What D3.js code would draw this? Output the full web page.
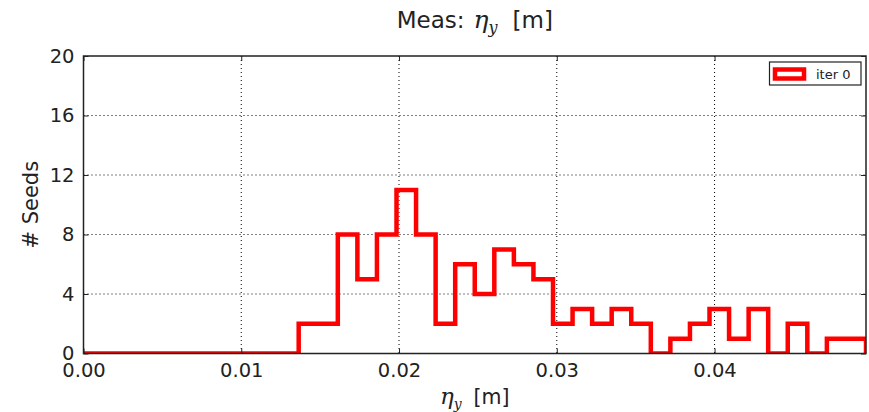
<!DOCTYPE html>
<html><head><meta charset="utf-8">
<script src="https://cdn.jsdelivr.net/npm/d3@7"></script>
<style>body{margin:0;background:#fff}svg{display:block}</style>
</head><body>
<svg id="c" width="869" height="412"></svg>
<script>
// Data
const counts = [0,0,0,0,0,0,0,0,0,0,0,2,2,8,5,8,11,8,2,6,4,7,6,5,2,3,2,3,2,0,1,2,3,1,3,0,2,0,1,1];
const xMax = 0.0496;
const xTicks = [0, 0.01, 0.02, 0.03, 0.04];
const yTicks = [0, 4, 8, 12, 16, 20];
const seriesName = "iter 0";

const W = 869, H = 412;
const m = {l: 83.5, t: 56, r: 866, b: 353.5};
const svg = d3.select("#c");
const x = d3.scaleLinear().domain([0, xMax]).range([m.l, m.r]);
const y = d3.scaleLinear().domain([0, 20]).range([m.b, m.t]);
const font = "DejaVu Sans, sans-serif";
const serif = "DejaVu Serif, serif";

// grid
const g = svg.append("g");
g.selectAll(".gx").data(xTicks.slice(1)).join("line")
  .attr("x1", d => x(d)).attr("x2", d => x(d)).attr("y1", m.t).attr("y2", m.b)
  .attr("stroke", "#000").attr("stroke-width", 1).attr("stroke-dasharray", "1,3");
g.selectAll(".gy").data(yTicks.slice(1, -1)).join("line")
  .attr("x1", m.l).attr("x2", m.r).attr("y1", d => y(d)).attr("y2", d => y(d))
  .attr("stroke", "#000").attr("stroke-width", 1).attr("stroke-dasharray", "1,3");

// clip
svg.append("clipPath").attr("id", "clip").append("rect")
  .attr("x", m.l).attr("y", m.t).attr("width", m.r - m.l).attr("height", m.b - m.t);

// histogram step
const n = counts.length;
const edge = i => i * xMax / n;
const pts = counts.map((c, i) => [edge(i), c]);
pts.push([edge(n), counts[n - 1]]);
pts.push([edge(n), 0]);
const line = d3.line().x(d => x(d[0])).y(d => y(d[1])).curve(d3.curveStepAfter);
svg.append("path").attr("d", line(pts)).attr("clip-path", "url(#clip)")
  .attr("fill", "none").attr("stroke", "#ff0000").attr("stroke-width", 4.5)
  .attr("stroke-linejoin", "miter");

// axes
const axB = svg.append("g").attr("transform", `translate(0,${m.b})`)
  .call(d3.axisBottom(x).tickValues(xTicks).tickSize(-5).tickPadding(10).tickFormat(d3.format(".2f")));
const axT = svg.append("g").attr("transform", `translate(0,${m.t})`)
  .call(d3.axisTop(x).tickValues(xTicks).tickSize(-5).tickFormat(""));
const axL = svg.append("g").attr("transform", `translate(${m.l},0)`)
  .call(d3.axisLeft(y).tickValues(yTicks).tickSize(-5).tickPadding(9).tickFormat(d3.format("d")));
const axR = svg.append("g").attr("transform", `translate(${m.r},0)`)
  .call(d3.axisRight(y).tickValues(yTicks).tickSize(-5).tickFormat(""));
[axB, axT, axL, axR].forEach(a => {
  a.select(".domain").remove();
  a.selectAll(".tick line").attr("stroke", "#222").attr("stroke-width", 1);
  a.selectAll("text").attr("font-family", font).attr("font-size", 19.5).attr("fill", "#222");
});
svg.append("rect").attr("x", m.l).attr("y", m.t).attr("width", m.r - m.l).attr("height", m.b - m.t)
  .attr("fill", "none").attr("stroke", "#222").attr("stroke-width", 1.5);

// title
const t = svg.append("text").attr("x", (m.l + m.r) / 2).attr("y", 28).attr("text-anchor", "middle")
  .attr("font-family", font).attr("font-size", 23).attr("fill", "#222");
t.append("tspan").text("Meas:");
t.append("tspan").text("η").attr("dx", 9).attr("font-family", serif).attr("font-style", "italic").attr("font-size", 25);
t.append("tspan").text("y").attr("font-family", serif).attr("font-style", "italic")
  .attr("font-size", 16).attr("dy", 5);
t.append("tspan").text("[m]").attr("dx", 15).attr("dy", -5);

// x label
const xl = svg.append("text").attr("x", (m.l + m.r) / 2).attr("y", 404).attr("text-anchor", "middle")
  .attr("font-family", font).attr("font-size", 20.5).attr("fill", "#222");
xl.append("tspan").text("η").attr("font-family", serif).attr("font-style", "italic").attr("font-size", 23);
xl.append("tspan").text("y").attr("font-family", serif).attr("font-style", "italic")
  .attr("font-size", 14).attr("dy", 5);
xl.append("tspan").text("[m]").attr("dx", 12).attr("dy", -5);

// y label
svg.append("text").attr("transform", `translate(38,${(m.t + m.b) / 2}) rotate(-90)`)
  .attr("text-anchor", "middle").attr("font-family", font).attr("font-size", 21).attr("fill", "#222")
  .text("# Seeds");

// legend
const lg = svg.append("g");
lg.append("rect").attr("x", 769.5).attr("y", 62).attr("width", 91.5).attr("height", 23)
  .attr("fill", "#fff").attr("stroke", "#222").attr("stroke-width", 1.2);
lg.append("rect").attr("x", 775).attr("y", 69.5).attr("width", 29).attr("height", 9)
  .attr("fill", "#fff").attr("stroke", "#ff0000").attr("stroke-width", 4.5);
lg.append("text").attr("x", 816).attr("y", 79).attr("font-family", font).attr("font-size", 13)
  .attr("fill", "#222").text(seriesName);
</script>
</body></html>
